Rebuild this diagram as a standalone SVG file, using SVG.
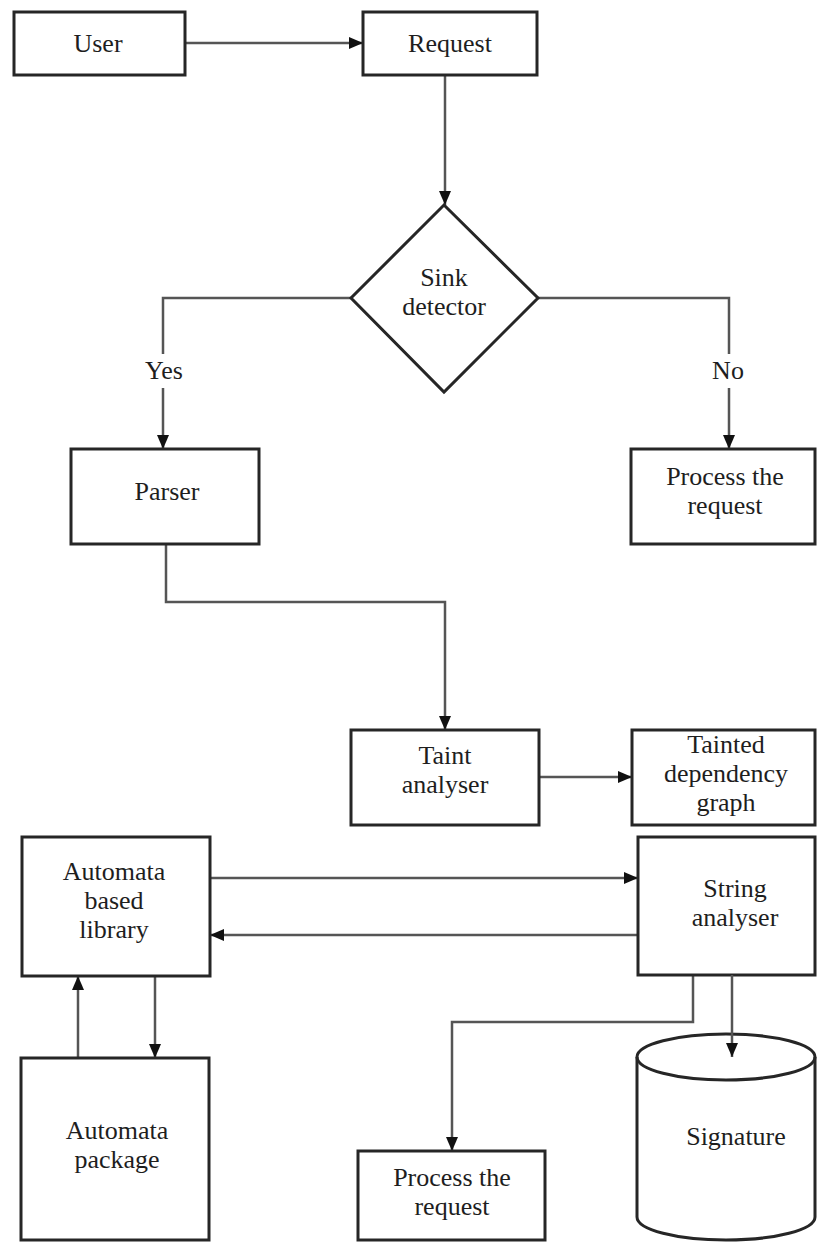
<svg xmlns="http://www.w3.org/2000/svg" width="817" height="1242" viewBox="0 0 817 1242">
  <style>
    .box { fill: #ffffff; stroke: #262626; stroke-width: 3; }
    .edge { fill: none; stroke: #555555; stroke-width: 2.5; marker-end: url(#arrow); }
    .lbl { font-family: 'Liberation Serif', Tinos, 'DejaVu Serif', serif; font-size: 26px; fill: #1e1e1e; text-anchor: middle; }
    .bg { fill: #ffffff; }
  </style>
  <defs>
    <marker id="arrow" markerUnits="userSpaceOnUse" markerWidth="14" markerHeight="14" viewBox="0 0 14 14" refX="14" refY="7" orient="auto">
      <path d="M0,1 L14,7 L0,13 Z" fill="#111111"/>
    </marker>
  </defs>
  <rect width="817" height="1242" fill="#ffffff"/>

  <!-- connectors -->
  <g id="connectors">
    <path class="edge" d="M185,43 H363"/>
    <path class="edge" d="M445,75 V205"/>
    <path class="edge" d="M351,298 H163 V449"/>
    <path class="edge" d="M538,298 H729 V449"/>
    <path class="edge" d="M166,544 V602 H445 V730"/>
    <path class="edge" d="M539,777 H632"/>
    <path class="edge" d="M210,878 H638"/>
    <path class="edge" d="M638,935 H210"/>
    <path class="edge" d="M78,1058 V976"/>
    <path class="edge" d="M155,976 V1058"/>
    <path class="edge" d="M693,975 V1022 H452 V1151"/>
  </g>

  <!-- branch labels -->
  <g id="label-yes">
    <rect class="bg" x="142" y="354" width="44" height="34"/>
    <text class="lbl" x="164" y="379">Yes</text>
  </g>
  <g id="label-no">
    <rect class="bg" x="709" y="354" width="40" height="34"/>
    <text class="lbl" x="728" y="379">No</text>
  </g>

  <g id="user">
    <rect class="box" x="14" y="12" width="171" height="63"/>
    <text class="lbl" x="98" y="52">User</text>
  </g>
  <g id="request">
    <rect class="box" x="363" y="12" width="174" height="63"/>
    <text class="lbl" x="450" y="52">Request</text>
  </g>
  <g id="sink-detector">
    <polygon class="box" points="444,205 538,298 444,392 351,298"/>
    <text class="lbl" x="444" y="286">Sink</text>
    <text class="lbl" x="444" y="315">detector</text>
  </g>
  <g id="parser">
    <rect class="box" x="71" y="449" width="188" height="95"/>
    <text class="lbl" x="167" y="500">Parser</text>
  </g>
  <g id="process-request-1">
    <rect class="box" x="631" y="449" width="184" height="95"/>
    <text class="lbl" x="725" y="485">Process the</text>
    <text class="lbl" x="725" y="514">request</text>
  </g>
  <g id="taint-analyser">
    <rect class="box" x="351" y="730" width="188" height="95"/>
    <text class="lbl" x="445" y="764">Taint</text>
    <text class="lbl" x="445" y="793">analyser</text>
  </g>
  <g id="tainted-dependency-graph">
    <rect class="box" x="632" y="730" width="183" height="95"/>
    <text class="lbl" x="726" y="753">Tainted</text>
    <text class="lbl" x="726" y="782">dependency</text>
    <text class="lbl" x="726" y="811">graph</text>
  </g>
  <g id="automata-based-library">
    <rect class="box" x="22" y="837" width="188" height="139"/>
    <text class="lbl" x="114" y="880">Automata</text>
    <text class="lbl" x="114" y="909">based</text>
    <text class="lbl" x="114" y="938">library</text>
  </g>
  <g id="string-analyser">
    <rect class="box" x="638" y="837" width="177" height="138"/>
    <text class="lbl" x="735" y="897">String</text>
    <text class="lbl" x="735" y="926">analyser</text>
  </g>
  <g id="automata-package">
    <rect class="box" x="21" y="1058" width="188" height="182"/>
    <text class="lbl" x="117" y="1139">Automata</text>
    <text class="lbl" x="117" y="1168">package</text>
  </g>
  <g id="process-request-2">
    <rect class="box" x="358" y="1151" width="187" height="89"/>
    <text class="lbl" x="452" y="1186">Process the</text>
    <text class="lbl" x="452" y="1215">request</text>
  </g>
  <g id="signature">
    <path class="box" d="M637,1057 V1217 A89,23 0 0 0 815,1217 V1057 A89,23 0 0 0 637,1057 Z"/>
    <path class="box" style="fill:none" d="M637,1057 A89,23 0 0 0 815,1057"/>
    <text class="lbl" x="736" y="1145">Signature</text>
  </g>
  <g id="connector-signature">
    <path class="edge" d="M732,975 V1057"/>
  </g>
</svg>
